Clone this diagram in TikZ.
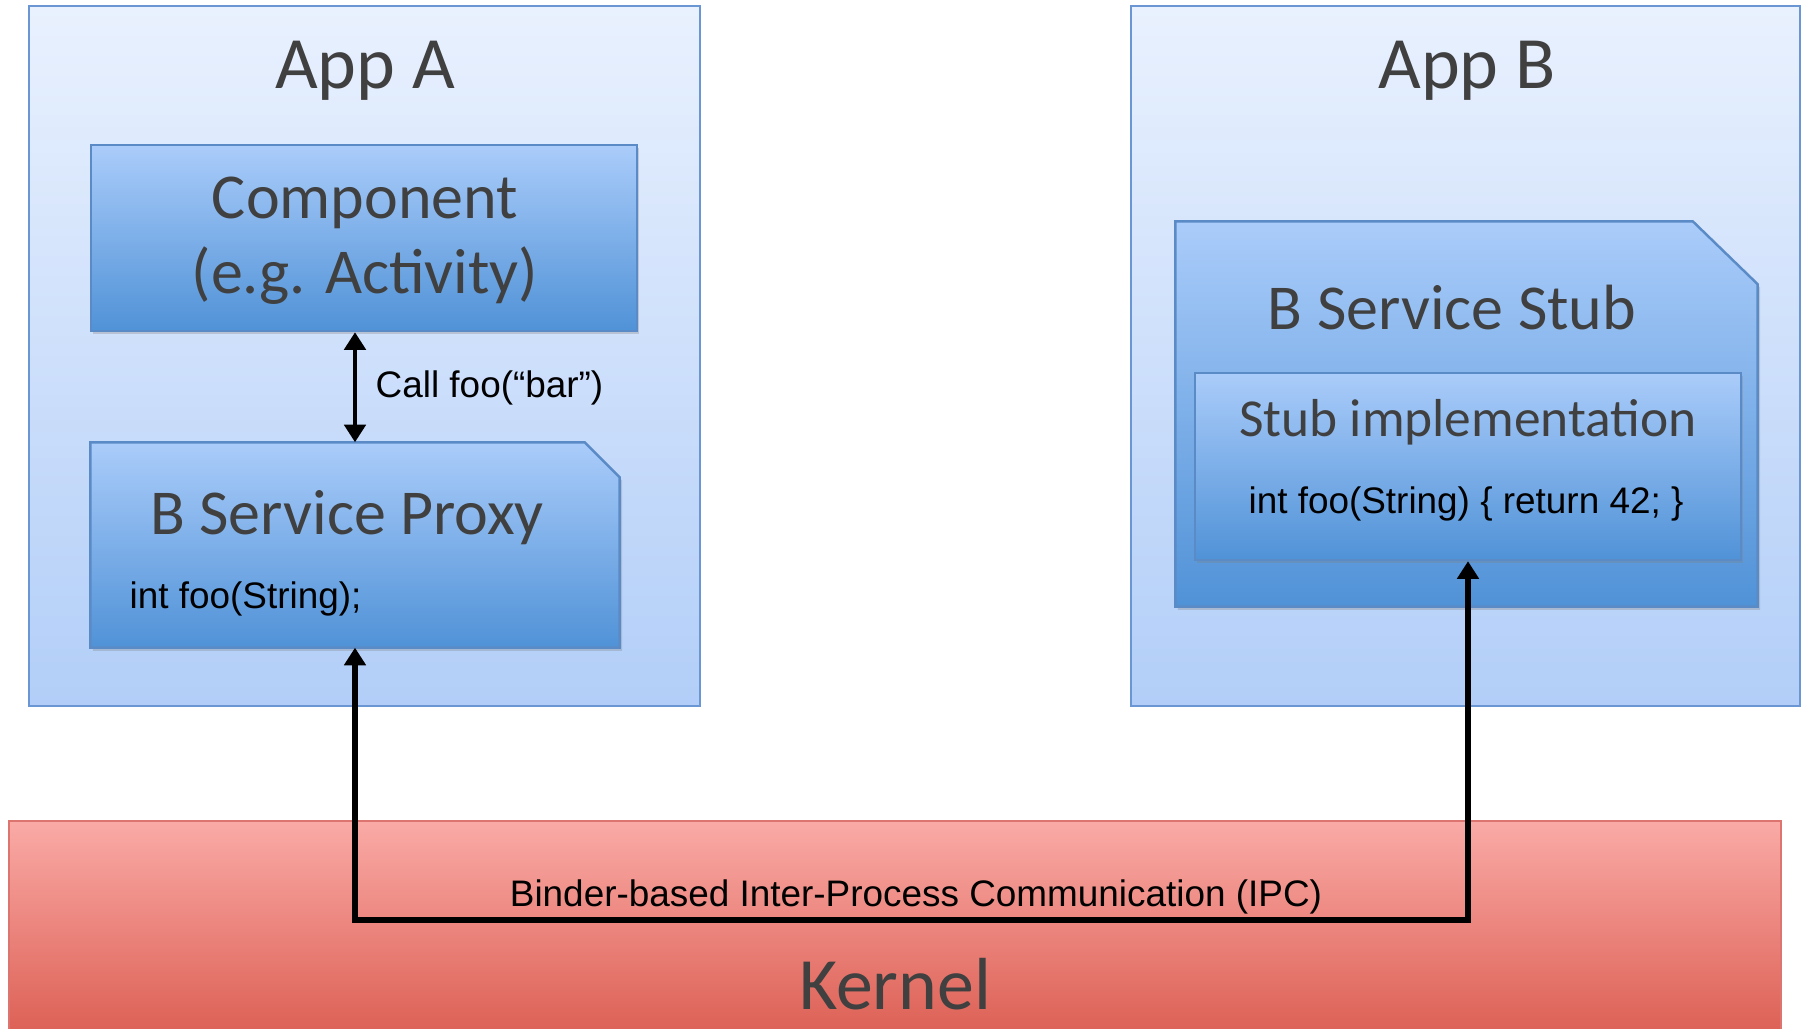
\documentclass[tikz,border=0pt]{standalone}
\usepackage{fontspec}
\setmainfont{Carlito}
\newfontfamily\codefont{Liberation Sans}
\usetikzlibrary{calc, arrows.meta, shadows}
\definecolor{appTop}{HTML}{E9F1FE}
\definecolor{appBottom}{HTML}{B2CEF8}
\definecolor{appLine}{HTML}{6A97D3}
\definecolor{boxTop}{HTML}{AACCFA}
\definecolor{boxBottom}{HTML}{5092D7}
\definecolor{boxLine}{HTML}{5A8BC6}
\definecolor{kernTop}{HTML}{FAAAA6}
\definecolor{kernBottom}{HTML}{DA5A4E}
\definecolor{kernLine}{HTML}{DC7470}
\definecolor{titleGray}{HTML}{404040}

\tikzset{
  appbox/.style={draw=appLine, line width=0.7pt, top color=appTop, bottom color=appBottom, inner sep=0pt},
  bluebox/.style={draw=boxLine, line width=0.7pt, top color=boxTop, bottom color=boxBottom,
    drop shadow={shadow xshift=0.7pt, shadow yshift=-0.9pt, opacity=0.3}},
  kernbox/.style={draw=kernLine, line width=0.7pt, top color=kernTop, bottom color=kernBottom, inner sep=0pt},
  bigtitle/.style={text=titleGray, font=\fontsize{21}{25}\selectfont, inner sep=0pt},
  midtitle/.style={text=titleGray, font=\fontsize{18.2}{21.3}\selectfont, inner sep=0pt, align=center},
  smalltitle/.style={text=titleGray, font=\fontsize{15.2}{18}\selectfont, inner sep=0pt},
  code/.style={text=black, font=\codefont\fontsize{10.5}{12.6}\selectfont, inner sep=0pt},
  callarrow/.style={line width=1.4pt, {Triangle[width=6pt,length=5pt]}-{Triangle[width=6pt,length=5pt]}},
  ipcarrow/.style={line width=1.8pt, {Triangle[width=6pt,length=5pt]}-{Triangle[width=6pt,length=5pt]}}
}

\begin{document}
\begin{tikzpicture}
  \useasboundingbox (0,0) rectangle (18.04,10.29);

  % Kernel
  \node[kernbox, minimum width=17.72cm, minimum height=2.3cm] (kernel) at (8.95,0.93) {};
  \node[bigtitle] (kernlabel) at (8.95,0.45) {Kernel};

  % App A
  \node[appbox, minimum width=6.71cm, minimum height=7cm] (appA) at (3.645,6.73) {};
  \node[bigtitle] (appAlabel) at (3.65,9.58) {App A};

  \node[bluebox, minimum width=5.46cm, minimum height=1.86cm, inner sep=0pt] (comp) at (3.64,7.91) {};
  \node[midtitle] (complabel) at (3.65,7.88) {Component\\(e.g. Activity)};

  \node[minimum width=5.28cm, minimum height=2.04cm, inner sep=0pt] (proxy) at (3.55,4.84) {};
  \path[bluebox] (proxy.south west) -- (proxy.north west)
    -- ($(proxy.north east)+(-0.35,0)$) -- ($(proxy.north east)+(0,-0.35)$)
    -- (proxy.south east) -- cycle;
  \node[midtitle] (proxylabel) at (3.47,5.11) {B Service Proxy};
  \node[code, anchor=west] (proxycode) at (1.29,4.30) {int foo(String);};

  \draw[callarrow] (proxy.north |- comp.south) -- (proxy.north);
  \node[code, anchor=west] (calllabel) at (3.75,6.41) {Call foo(“bar”)};

  % App B
  \node[appbox, minimum width=6.69cm, minimum height=7cm] (appB) at (14.655,6.73) {};
  \node[bigtitle] (appBlabel) at (14.67,9.58) {App B};

  \node[minimum width=5.81cm, minimum height=3.84cm, inner sep=0pt] (stub) at (14.665,6.15) {};
  \path[bluebox] (stub.south west) -- (stub.north west)
    -- ($(stub.north east)+(-0.65,0)$) -- ($(stub.north east)+(0,-0.63)$)
    -- (stub.south east) -- cycle;
  \node[midtitle] (stublabel) at (14.52,7.21) {B Service Stub};

  \node[bluebox, minimum width=5.46cm, minimum height=1.87cm, inner sep=0pt] (impl) at (14.68,5.625) {};
  \node[smalltitle] (impllabel) at (14.68,6.07) {Stub implementation};
  \node[code] (implcode) at (14.66,5.25) {int foo(String) \{ return 42; \}};

  % IPC through the kernel
  \coordinate (ipcbase) at (9.16,1.09);
  \draw[ipcarrow] (proxy.south) |- (ipcbase) -| (impl.south);
  \node[code] (ipclabel) at (9.16,1.32) {Binder-based Inter-Process Communication (IPC)};
\end{tikzpicture}
\end{document}
